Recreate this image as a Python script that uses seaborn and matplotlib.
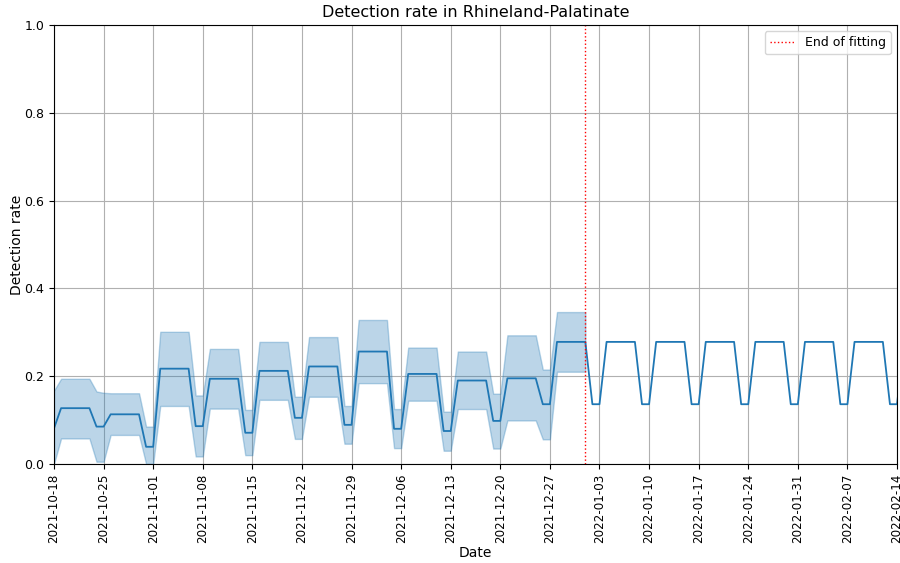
import matplotlib
matplotlib.use("Agg")
import matplotlib.pyplot as plt
import matplotlib.dates as mdates
import numpy as np
import pandas as pd
import seaborn as sns

# Daily detection-rate estimates, 2021-10-18 .. 2022-02-15
start_date = "2021-10-18"
end_of_fitting = "2022-01-01"

rate = [
    0.081,                                   # 10-18
    0.127, 0.127, 0.127, 0.127, 0.127,       # 10-19 .. 10-23
    0.085, 0.085,                            # 10-24, 10-25
    0.113, 0.113, 0.113, 0.113, 0.113,       # 10-26 .. 10-30
    0.039, 0.039,                            # 10-31, 11-01
    0.217, 0.217, 0.217, 0.217, 0.217,       # 11-02 .. 11-06
    0.086, 0.086,                            # 11-07, 11-08
    0.194, 0.194, 0.194, 0.194, 0.194,       # 11-09 .. 11-13
    0.071, 0.071,                            # 11-14, 11-15
    0.212, 0.212, 0.212, 0.212, 0.212,       # 11-16 .. 11-20
    0.105, 0.105,                            # 11-21, 11-22
    0.222, 0.222, 0.222, 0.222, 0.222,       # 11-23 .. 11-27
    0.089, 0.089,                            # 11-28, 11-29
    0.256, 0.256, 0.256, 0.256, 0.256,       # 11-30 .. 12-04
    0.080, 0.080,                            # 12-05, 12-06
    0.205, 0.205, 0.205, 0.205, 0.205,       # 12-07 .. 12-11
    0.075, 0.075,                            # 12-12, 12-13
    0.190, 0.190, 0.190, 0.190, 0.190,       # 12-14 .. 12-18
    0.098, 0.098,                            # 12-19, 12-20
    0.195, 0.195, 0.195, 0.195, 0.195,       # 12-21 .. 12-25
    0.136, 0.136,                            # 12-26, 12-27
    0.278, 0.278, 0.278, 0.278, 0.278,       # 12-28 .. 01-01
    # projection
    0.136, 0.136,                            # 01-02, 01-03
    0.278, 0.278, 0.278, 0.278, 0.278,       # 01-04 .. 01-08
    0.136, 0.136,                            # 01-09, 01-10
    0.278, 0.278, 0.278, 0.278, 0.278,       # 01-11 .. 01-15
    0.136, 0.136,                            # 01-16, 01-17
    0.278, 0.278, 0.278, 0.278, 0.278,       # 01-18 .. 01-22
    0.136, 0.136,                            # 01-23, 01-24
    0.278, 0.278, 0.278, 0.278, 0.278,       # 01-25 .. 01-29
    0.136, 0.136,                            # 01-30, 01-31
    0.278, 0.278, 0.278, 0.278, 0.278,       # 02-01 .. 02-05
    0.136, 0.136,                            # 02-06, 02-07
    0.278, 0.278, 0.278, 0.278, 0.278,       # 02-08 .. 02-12
    0.136, 0.136,                            # 02-13, 02-14
    0.278,                                   # 02-15
]

# Credible interval over the fitting period (10-18 .. 01-01)
rate_lower = [
    0.000,
    0.058, 0.058, 0.058, 0.058, 0.058,
    0.005, 0.005,
    0.066, 0.066, 0.066, 0.066, 0.066,
    0.000, 0.000,
    0.132, 0.132, 0.132, 0.132, 0.132,
    0.017, 0.017,
    0.126, 0.126, 0.126, 0.126, 0.126,
    0.020, 0.020,
    0.146, 0.146, 0.146, 0.146, 0.146,
    0.057, 0.057,
    0.153, 0.153, 0.153, 0.153, 0.153,
    0.046, 0.046,
    0.184, 0.184, 0.184, 0.184, 0.184,
    0.036, 0.036,
    0.144, 0.144, 0.144, 0.144, 0.144,
    0.030, 0.030,
    0.125, 0.125, 0.125, 0.125, 0.125,
    0.035, 0.035,
    0.099, 0.099, 0.099, 0.099, 0.099,
    0.056, 0.056,
    0.210, 0.210, 0.210, 0.210, 0.210,
]
rate_upper = [
    0.167,
    0.194, 0.194, 0.194, 0.194, 0.194,
    0.165, 0.162,
    0.161, 0.161, 0.161, 0.161, 0.161,
    0.085, 0.085,
    0.301, 0.301, 0.301, 0.301, 0.301,
    0.156, 0.156,
    0.262, 0.262, 0.262, 0.262, 0.262,
    0.123, 0.123,
    0.278, 0.278, 0.278, 0.278, 0.278,
    0.153, 0.153,
    0.289, 0.289, 0.289, 0.289, 0.289,
    0.132, 0.132,
    0.328, 0.328, 0.328, 0.328, 0.328,
    0.125, 0.125,
    0.265, 0.265, 0.265, 0.265, 0.265,
    0.119, 0.119,
    0.256, 0.256, 0.256, 0.256, 0.256,
    0.160, 0.160,
    0.293, 0.293, 0.293, 0.293, 0.293,
    0.215, 0.215,
    0.346, 0.346, 0.346, 0.346, 0.346,
]

dates = pd.date_range(start_date, periods=len(rate), freq="D")
df = pd.DataFrame({"Date": dates, "rate": rate})
band_dates = dates[:len(rate_lower)]

fig = plt.figure(figsize=(9.0, 5.63), dpi=100)
ax = fig.add_axes([0.06, 0.176, 0.9367, 0.7796])

blue = "#1f77b4"
ax.fill_between(band_dates, rate_lower, rate_upper, color=blue, alpha=0.3, linewidth=1)
sns.lineplot(data=df, x="Date", y="rate", ax=ax, color=blue, linewidth=1.3, legend=False)
ax.axvline(pd.Timestamp(end_of_fitting), color="red", linestyle=":", linewidth=1,
           label="End of fitting")

ax.set_xlim(pd.Timestamp(start_date), pd.Timestamp("2022-02-14"))
ax.set_ylim(0, 1)
ax.xaxis.set_major_locator(mdates.WeekdayLocator(byweekday=mdates.MO))
ax.xaxis.set_major_formatter(mdates.DateFormatter("%Y-%m-%d"))
ax.tick_params(axis="x", labelrotation=90, labelsize=8.6)
ax.tick_params(axis="y", labelsize=9)
ax.grid(True, color="#b0b0b0", linewidth=0.8)
ax.set_axisbelow(True)

ax.set_title("Detection rate in Rhineland-Palatinate", fontsize=11.5)
ax.set_xlabel("Date", fontsize=10, labelpad=2)
ax.set_ylabel("Detection rate", fontsize=10)
ax.yaxis.set_label_coords(-0.036, 0.5)
ax.legend(loc="upper right", fontsize=9)

fig.savefig("out.png", dpi=100)
